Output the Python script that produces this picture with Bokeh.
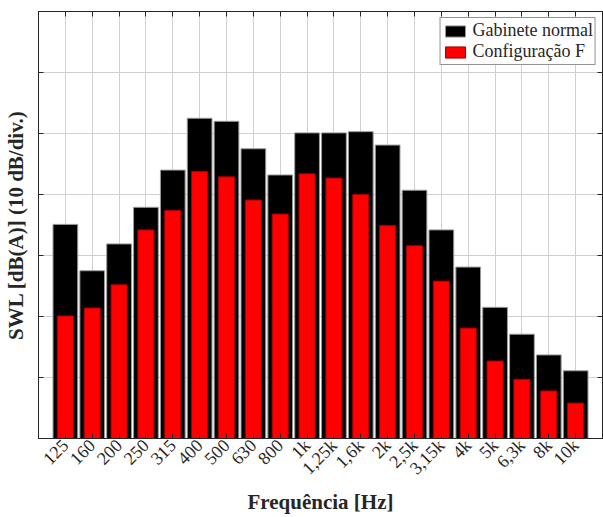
import math
from bokeh.plotting import figure
from bokeh.models import (FixedTicker, LinearAxis, Legend, LegendItem,
                          ColumnDataSource, Range1d)
from bokeh.embed import file_html
from bokeh.resources import INLINE

categories = ["125", "160", "200", "250", "315", "400", "500", "630", "800", "1k",
              "1,25k", "1,6k", "2k", "2,5k", "3,15k", "4k", "5k", "6,3k", "8k", "10k"]
gabinete_normal = [35.1, 27.5, 31.9, 37.9, 44.0, 52.5, 52.0, 47.5, 43.2, 50.1,
                   50.1, 50.3, 48.1, 40.7, 34.2, 28.1, 21.5, 17.1, 13.7, 11.1]
configuracao_f = [20.1, 21.4, 25.2, 34.2, 37.4, 43.8, 42.9, 39.1, 36.8, 43.4,
                  42.7, 40.0, 34.9, 31.6, 25.8, 18.1, 12.7, 9.7, 7.8, 5.8]
y_ticks = [0, 10, 20, 30, 40, 50, 60, 70]

xs = list(range(1, len(categories) + 1))
src = ColumnDataSource(dict(x=xs, cat=categories, g=gabinete_normal, f=configuracao_f))

FONT = "Liberation Serif"
TXT = "#262626"

p = figure(width=603, height=517, output_backend="svg", toolbar_location=None,
           x_range=Range1d(0, len(categories) + 1), y_range=Range1d(y_ticks[0], y_ticks[-1]),
           min_border_left=37, min_border_right=1, min_border_top=11, min_border_bottom=78,
           background_fill_color="white", border_fill_color="white")

r1 = p.vbar(x="x", top="g", width=0.92, bottom=0, source=src,
            fill_color="black", line_color="#9a9a9a", line_width=1)
r2 = p.vbar(x="x", top="f", width=0.6, bottom=0, source=src,
            fill_color="#ff0000", line_color="#a00000", line_width=1)

xt = FixedTicker(ticks=xs)
yt = FixedTicker(ticks=y_ticks)
blank_x = {x: "" for x in xs}
blank_y = {y: "" for y in y_ticks}

p.xaxis.ticker = xt
p.xaxis.major_label_overrides = {x: c for x, c in zip(xs, categories)}
p.xaxis.major_label_orientation = math.pi / 4
p.xaxis.major_label_text_font = FONT
p.xaxis.major_label_text_font_size = "18px"
p.xaxis.major_label_text_color = TXT
p.xaxis.major_label_standoff = 4
p.xaxis.axis_label = "Frequência [Hz]"
p.xaxis.axis_label_text_font = FONT
p.xaxis.axis_label_text_font_style = "bold"
p.xaxis.axis_label_text_font_size = "21px"
p.xaxis.axis_label_text_color = TXT
p.xaxis.axis_label_standoff = 2

p.yaxis.ticker = yt
p.yaxis.major_label_overrides = blank_y
p.yaxis.major_label_text_font_size = "1px"
p.yaxis.major_label_standoff = 0
p.yaxis.axis_label = "SWL [dB(A)] (10 dB/div.)"
p.yaxis.axis_label_text_font = FONT
p.yaxis.axis_label_text_font_style = "bold"
p.yaxis.axis_label_text_font_size = "21px"
p.yaxis.axis_label_text_color = TXT
p.yaxis.axis_label_standoff = 11

for ax in (p.xaxis[0], p.yaxis[0]):
    ax.major_tick_in = 5
    ax.major_tick_out = 0
    ax.minor_tick_line_color = None
    ax.axis_line_color = "#262626"
    ax.major_tick_line_color = "#262626"

top_ax = LinearAxis(ticker=xt, major_label_overrides=blank_x, major_label_text_font_size="1px",
                    major_label_standoff=0,
                    major_tick_in=5, major_tick_out=0, minor_tick_line_color=None,
                    axis_line_color="#262626", major_tick_line_color="#262626")
right_ax = LinearAxis(ticker=yt, major_label_overrides=blank_y, major_label_text_font_size="1px",
                      major_label_standoff=0,
                      major_tick_in=5, major_tick_out=0, minor_tick_line_color=None,
                      axis_line_color="#262626", major_tick_line_color="#262626")
p.add_layout(top_ax, "above")
p.add_layout(right_ax, "right")

p.xgrid.ticker = xt
p.ygrid.ticker = yt
p.grid.grid_line_color = "#d0d0d0"
p.grid.grid_line_width = 1
p.outline_line_color = "#262626"

legend = Legend(items=[LegendItem(label="Gabinete normal", renderers=[r1]),
                       LegendItem(label="Configuração F", renderers=[r2])],
                location="top_right")
legend.label_text_font = FONT
legend.label_text_font_size = "18px"
legend.label_text_color = TXT
legend.label_height = 18
legend.glyph_width = 25
legend.glyph_height = 14
legend.label_standoff = 5
legend.spacing = 0
legend.padding = 2
legend.margin = 6
legend.border_line_color = "#262626"
legend.border_line_width = 1
legend.background_fill_alpha = 1
p.add_layout(legend)

open("out.html", "w").write(file_html(p, INLINE))
